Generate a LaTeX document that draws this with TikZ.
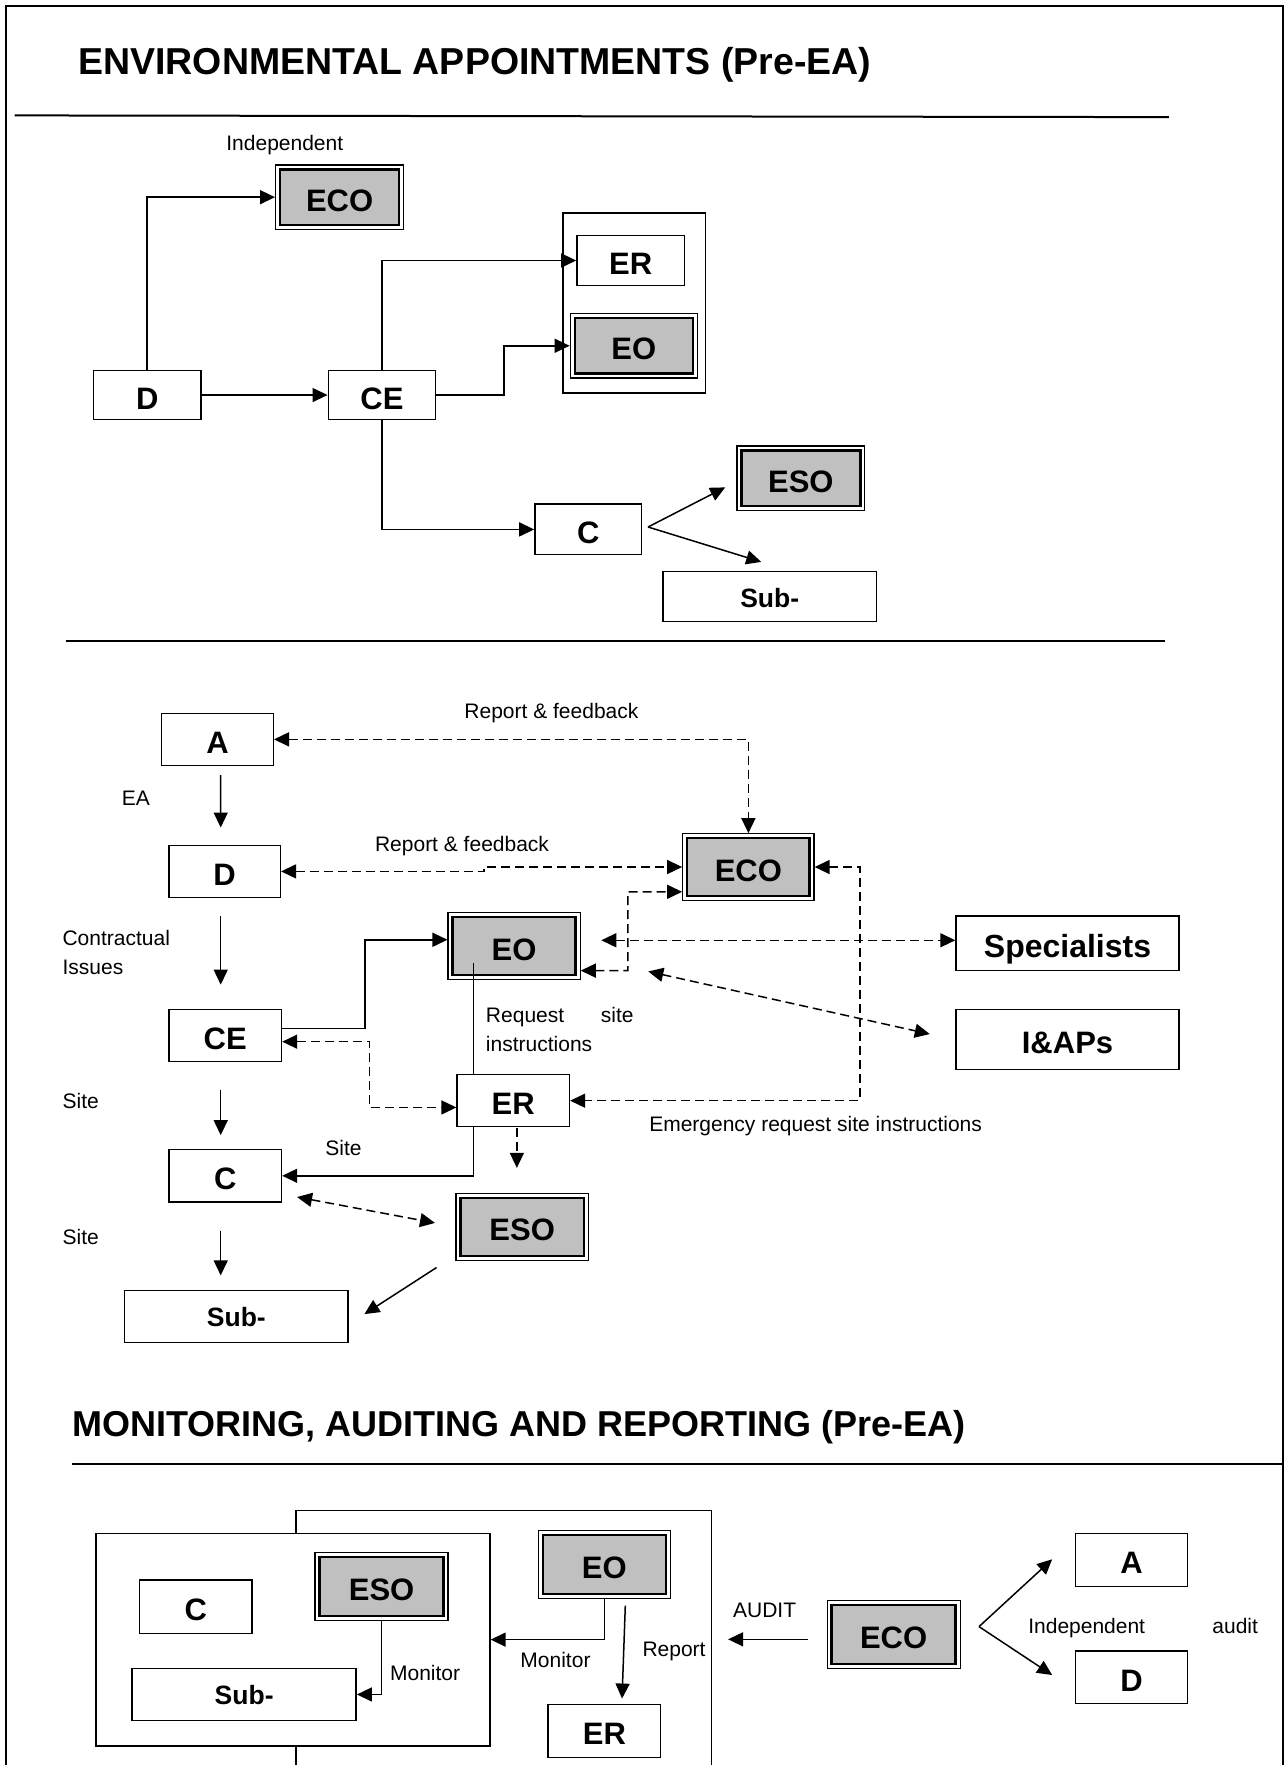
\documentclass[tikz,border=0pt]{standalone}
\usepackage{fontspec}
\setmainfont{Liberation Sans}
\usetikzlibrary{arrows.meta,calc}
\definecolor{boxgray}{RGB}{192,192,192}
\tikzset{
  pageframe/.style={line width=2pt},
  hrule/.style={line width=2pt},
  ttl/.style={inner sep=0pt, font=\bfseries\fontsize{37.5}{40}\selectfont},
  box/.style={draw, line width=1.4pt, fill=white, inner sep=0pt, text height=28pt, text depth=0pt,
    font=\bfseries\fontsize{31}{31}\selectfont},
  dbl/.style={box, line width=1.2pt,
    path picture={\draw[line width=2.4pt, fill=boxgray]
      ([shift={(4.5pt,-4.5pt)}]path picture bounding box.north west) rectangle
      ([shift={(-4.5pt,4.5pt)}]path picture bounding box.south east);}},
  subf/.style={text height=21pt, text depth=0pt, font=\bfseries\fontsize{26.5}{26.5}\selectfont},
  sz/.style 2 args={minimum width=#1*1.1261pt, minimum height=#2*1.1261pt},
  lbl/.style={inner sep=0pt, font=\fontsize{21}{29.8}\selectfont},
  ln/.style={line width=1.5pt},
  arr/.style={ln, ->},
  dar/.style={ln, ->, dash pattern=on 9pt off 5pt},
  darr/.style={ln, <->, dash pattern=on 9pt off 5pt},
}
\begin{document}
\begin{tikzpicture}[x=1.1261pt, y=-1.1261pt, >={Triangle[length=15pt,width=14pt]}]
\useasboundingbox (0,0) rectangle (1142,1567.4);
\draw[pageframe] (5.3,1567.4) -- (5.3,5.3) -- (1139.6,5.3) -- (1139.6,1567.4);

% ---------------- Section 1 ----------------
\node[ttl, anchor=base west] (t1) at (69.3,66.5) {ENVIRONMENTAL APPOINTMENTS (Pre-EA)};
\draw[hrule] (13,102.5) -- (1038,104);

\node[lbl, anchor=base] (ind1) at (252.9,133.8) {Independent};
\node[dbl, sz={113.7}{57.2}] (eco1) at (301.6,175.1) {ECO};
\node[box, sz={95.5}{43.6}] (d1) at (130.75,350.8) {D};
\node[box, sz={95.5}{43.6}] (ce1) at (339.25,350.8) {CE};
\node[box, sz={126.7}{160}] (grp1) at (563.35,269) {};
\node[box, sz={95.5}{44.1}] (er1) at (560.05,231.35) {ER};
\node[dbl, sz={113}{57.1}] (eo1) at (562.9,307.05) {EO};
\node[dbl, sz={113.6}{57.4}] (eso1) at (711.2,424.7) {ESO};
\node[box, sz={94.8}{44.9}] (c1) at (522.4,470.15) {C};
\node[box, subf, sz={189.5}{44.5}] (sub1) at (683.55,529.75) {Sub-};
\draw[hrule] (58.3,569.6) -- (1034.8,569.6);

\draw[arr] (d1.north) |- (eco1.west);
\draw[arr] (d1.east) -- (ce1.west);
\draw[arr] (ce1.north) |- (er1.west);
\draw[arr] (ce1.east) -- (447.4,350.8) |- (eo1.west);
\draw[arr] (ce1.south) |- (c1.west);
\coordinate (cfork) at (575.5,468);
\coordinate (toeso) at (644,432.8);
\coordinate (tosub) at (676,499);
\draw[arr] (cfork) -- (toeso);
\draw[arr] (cfork) -- (tosub);

% ---------------- Section 2 ----------------
\node[box, sz={99.1}{46}] (a2) at (193.15,656.6) {A};
\node[box, sz={99}{46.5}] (d2) at (199.5,773.85) {D};
\node[box, sz={100}{46.1}] (ce2) at (200,919.55) {CE};
\node[box, sz={100}{46.5}] (c2) at (200,1044.15) {C};
\node[box, subf, sz={198.2}{46}] (sub2) at (209.9,1169) {Sub-};
\node[dbl, sz={116.6}{59.1}] (eco2) at (664.6,769.95) {ECO};
\node[dbl, sz={117.3}{59.5}] (eo2) at (456.55,840.25) {EO};
\node[box, sz={99.8}{46.1}] (er2) at (455.8,977.45) {ER};
\node[dbl, sz={117.5}{59.8}] (eso2) at (463.75,1089.6) {ESO};
\node[box, font=\bfseries\fontsize{32}{32}\selectfont, sz={198}{48.6}] (spec) at (948,837.7) {Specialists};
\node[box, sz={198}{53.5}] (iap) at (948,923.25) {I\&APs};

% vertical flow arrows
\draw[arr] ($(a2.south)+(2.85,8.2)$) -- ($(d2.north)+(-3.5,-15.1)$);
\draw[arr] ($(d2.south)+(-3.5,15.9)$) -- ($(ce2.north)+(-4,-21.5)$);
\draw[arr] ($(ce2.south)+(-4,24.4)$) -- ($(c2.north)+(-4,-12.2)$);
\draw[arr] ($(c2.south)+(-4,24.9)$) -- ($(sub2.north)+(-13.9,-12.8)$);

% dashed links
\draw[darr] (a2.east) -| (eco2.north);
\draw[darr] (d2.east) -- (430,773.85) |- (eco2.west);
\draw[darr] ($(eo2.east)+(0,21.7)$) -| (557.5,792) -- ($(eco2.west)+(0,22)$);
\coordinate (eoSp) at (534,835);
\draw[darr] (eoSp) -- (eoSp -| spec.west);
\coordinate (eoIa) at (575.7,862.7);
\coordinate (iaEnd) at (825.7,918.3);
\draw[darr] (eoIa) -- (iaEnd);
\draw[darr] (eco2.east) -- (763.7,769.95) |- (er2.east);
\draw[darr] ($(ce2.east)+(0,5.5)$) -- (328,925.05) |- ($(er2.west)+(0,6)$);
\draw[dar] ($(er2.south)+(3.2,1)$) -- ++(0,35);
\coordinate (cEs1) at (263.8,1063);
\coordinate (cEs2) at (386.3,1086);
\draw[darr] (cEs1) -- (cEs2);

% solid links
\draw[arr] ($(ce2.east)+(0,-6)$) -- (324.3,913.55) |- ($(eo2.west)+(0,-5.7)$);
\coordinate (eoIn) at (420.5,855.3);
\draw[ln] (eoIn) -- (eoIn |- er2.north);
\draw[arr] (eoIn |- er2.south) |- (c2.east);
\coordinate (esS1) at (387.7,1125.6);
\coordinate (esS2) at (323.6,1167);
\draw[arr] (esS1) -- (esS2);

% labels
\node[lbl, anchor=base] (rf1) at (489.7,638) {Report \& feedback};
\node[lbl, anchor=base] (rf2) at (410.3,756) {Report \& feedback};
\node[lbl, anchor=base west] (ea) at (108,714.9) {EA};
\node[lbl, anchor=base west, align=left] (ci) at (55.4,865.7) {Contractual\\Issues};
\node[lbl, anchor=base west] (site1) at (55.4,984.7) {Site};
\node[lbl, anchor=base] (site2) at (305,1026.3) {Site};
\node[lbl, anchor=base west] (site3) at (55.4,1105) {Site};
\node[lbl, anchor=base west, align=left] (req) at (431.4,934.1) {\hbox to 147.7pt{Request\hfill site}\\instructions};
\node[lbl, anchor=base west] (emg) at (576.4,1004.6) {Emergency request site instructions};

% ---------------- Section 3 ----------------
\node[ttl, anchor=base west, font=\bfseries\fontsize{36}{40}\selectfont] (t2) at (64.1,1276) {MONITORING, AUDITING AND REPORTING (Pre-EA)};
\draw[hrule] (64,1300) -- (1139.6,1300);

\draw[ln] (263,1361.6) -- (263,1341.5) -- (631.8,1341.5) -- (631.8,1567.4);
\draw[ln] (263,1550.5) -- (263,1567.4);
\node[box, sz={349.9}{188.9}] (front) at (260.15,1456.05) {};

\node[box, sz={99.9}{47.4}] (c3) at (173.85,1426.7) {C};
\node[dbl, sz={118.1}{60.4}] (eso3) at (338.85,1409) {ESO};
\node[box, subf, sz={199}{46.5}] (sub3) at (216.8,1504.75) {Sub-};
\node[dbl, sz={117.4}{60}] (eo3) at (536.7,1389.3) {EO};
\node[box, sz={99.8}{47.1}] (er3) at (536.7,1537.05) {ER};
\node[dbl, sz={118.1}{60}] (eco3) at (793.55,1451.5) {ECO};
\node[box, sz={99.2}{47.4}] (a3) at (1004.9,1385.3) {A};
\node[box, sz={99.2}{46.6}] (d3) at (1004.9,1489.3) {D};

\draw[arr] (eso3.south) |- (sub3.east);
\draw[arr] (eo3.south) |- (front.east);
\draw[arr] ($(eo3.south)+(18.6,6)$) -- ($(er3.north)+(15.7,-4.5)$);
\draw[arr] ($(eco3.west)+(-16.7,4.3)$) -- ($(eco3.west)+(-87.4,4.3)$);
\coordinate (fork3) at (869.4,1444.5);
\draw[arr] (fork3) -- ($(a3.west)+(-20.3,-0.6)$);
\draw[arr] (fork3) -- ($(d3.west)+(-20.3,-1.8)$);

\node[lbl, anchor=base] (mon1) at (377.5,1492.5) {Monitor};
\node[lbl, anchor=base] (mon2) at (493.3,1480.5) {Monitor};
\node[lbl, anchor=base] (rep) at (598.6,1471) {Report};
\node[lbl, anchor=base] (aud) at (679,1436.4) {AUDIT};
\node[lbl, anchor=base west] (indau) at (913,1450.3) {\hbox to 229.7pt{Independent\hfill audit}};
\end{tikzpicture}
\end{document}
